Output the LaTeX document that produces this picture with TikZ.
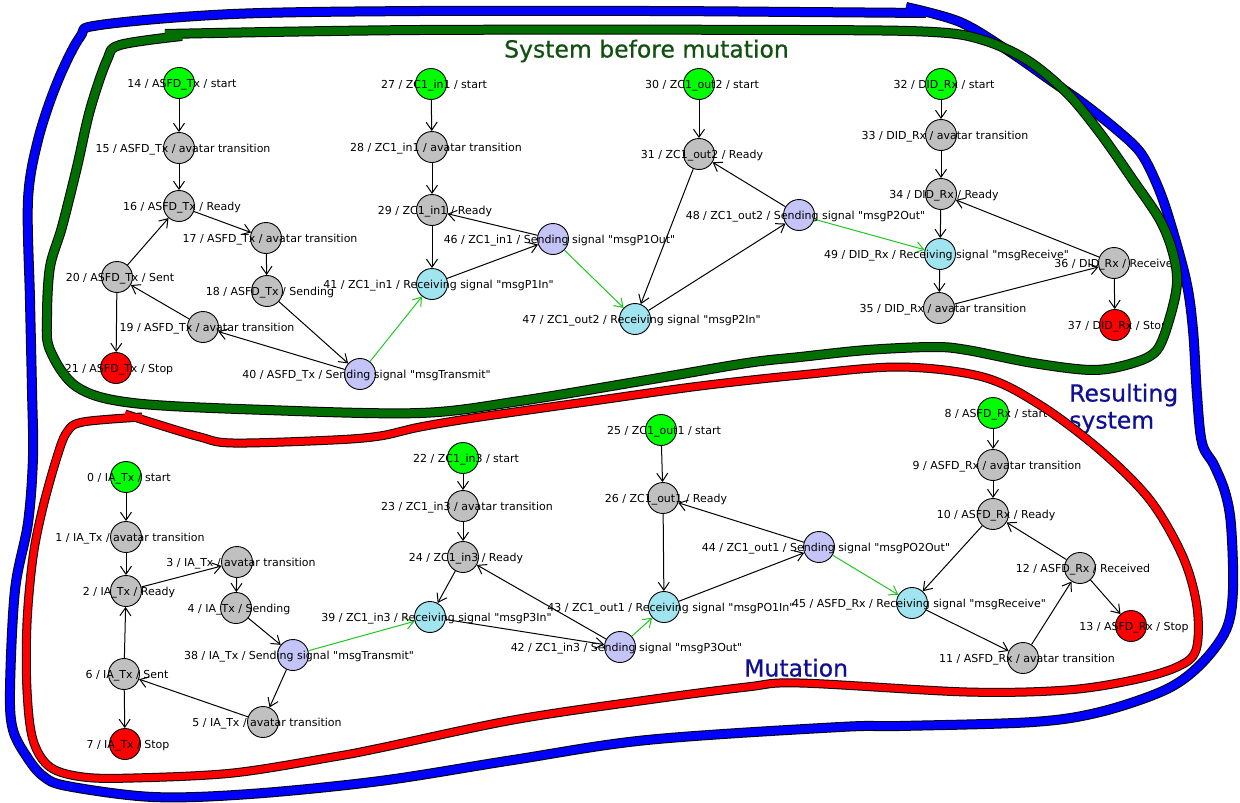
\documentclass[tikz,border=0pt]{standalone}
\usepackage{fontspec}
\newfontfamily\diagfont{DejaVu Sans}
\newfontfamily\titlefont{DejaVu Sans}[FakeBold=0.6]
\usetikzlibrary{arrows.meta}

\definecolor{cInit}{RGB}{0,255,0}
\definecolor{cMid}{RGB}{192,192,192}
\definecolor{cFin}{RGB}{255,0,0}
\definecolor{cSend}{RGB}{196,196,248}
\definecolor{cRecv}{RGB}{160,228,240}
\definecolor{cSig}{RGB}{30,200,30}
\definecolor{cBandBlue}{RGB}{0,0,255}
\definecolor{cBandGreen}{RGB}{0,110,0}
\definecolor{cBandRed}{RGB}{255,0,0}
\definecolor{cTitleGreen}{RGB}{18,80,18}
\definecolor{cTitleBlue}{RGB}{16,16,150}

% label of a state, centred on the state and drawn over it
\newcommand\statelabel[3]{\node[lbl] (l#1) at ([xshift=#2pt,yshift=-4pt]s#1.center) {#3};}

\begin{document}
\begin{tikzpicture}[x=1pt,y=-1pt,
  st/.style={circle,draw=black,line width=0.9pt,minimum size=31pt,inner sep=0pt},
  stinit/.style={st,fill=cInit},
  stmid/.style={st,fill=cMid},
  stfin/.style={st,fill=cFin},
  stsend/.style={st,fill=cSend},
  strecv/.style={st,fill=cRecv},
  lbl/.style={font=\diagfont\fontsize{11}{13}\selectfont,inner sep=0pt,anchor=base},
  trn/.style={-{Straight Barb[length=8pt,width=11pt,line width=1pt]},line width=1pt,draw=black},
  sigtrn/.style={trn,draw=cSig},
  title/.style={font=\titlefont\fontsize{23.5}{27}\selectfont,inner sep=0pt},
  band/.style={line width=1pt,draw=black,double distance=8pt,line cap=butt,line join=round}]

\fill[white] (0,0) rectangle (1240,803);
\useasboundingbox (0,0) rectangle (1240,803);

% ---------- states: system before mutation ----------
\node[stinit] (s14) at (179,83) {};
\node[stmid]  (s15) at (179,148) {};
\node[stmid]  (s16) at (179,206) {};
\node[stmid]  (s17) at (266,238) {};
\node[stmid]  (s18) at (267,291) {};
\node[stmid]  (s19) at (203,327) {};
\node[stmid]  (s20) at (117,277) {};
\node[stfin]  (s21) at (116,368) {};
\node[stsend] (s40) at (360,374) {};
\node[stinit] (s27) at (431,84) {};
\node[stmid]  (s28) at (432,147) {};
\node[stmid]  (s29) at (432,210) {};
\node[strecv] (s41) at (432,284) {};
\node[stsend] (s46) at (553,239) {};
\node[strecv] (s47) at (635,319) {};
\node[stinit] (s30) at (699,84) {};
\node[stmid]  (s31) at (699,154) {};
\node[stsend] (s48) at (799,215) {};
\node[stinit] (s32) at (941,84) {};
\node[stmid]  (s33) at (941,135) {};
\node[stmid]  (s34) at (941,194) {};
\node[strecv] (s49) at (940,254) {};
\node[stmid]  (s35) at (939,308) {};
\node[stmid]  (s36) at (1114,263) {};
\node[stfin]  (s37) at (1115,325) {};

% ---------- states: mutation ----------
\node[stinit] (s0)  at (126,477) {};
\node[stmid]  (s1)  at (126,537) {};
\node[stmid]  (s2)  at (126,591) {};
\node[stmid]  (s3)  at (237,562) {};
\node[stmid]  (s4)  at (236,608) {};
\node[stsend] (s38) at (293,655) {};
\node[stmid]  (s6)  at (124,674) {};
\node[stmid]  (s5)  at (263,722) {};
\node[stfin]  (s7)  at (125,744) {};
\node[stinit] (s22) at (463,458) {};
\node[stmid]  (s23) at (463,506) {};
\node[stmid]  (s24) at (463,557) {};
\node[strecv] (s39) at (430,617) {};
\node[stsend] (s42) at (620,647) {};
\node[stinit] (s25) at (661,430) {};
\node[stmid]  (s26) at (663,498) {};
\node[strecv] (s43) at (664,607) {};
\node[stsend] (s44) at (819,547) {};
\node[stinit] (s8)  at (993,413) {};
\node[stmid]  (s9)  at (993,465) {};
\node[stmid]  (s10) at (993,514) {};
\node[stmid]  (s12) at (1080,568) {};
\node[strecv] (s45) at (912,603) {};
\node[stmid]  (s11) at (1023,658) {};
\node[stfin]  (s13) at (1131,626) {};

% ---------- transitions ----------
\draw[trn] (s14) -- (s15);
\draw[trn] (s15) -- (s16);
\draw[trn] (s16) -- (s17);
\draw[trn] (s17) -- (s18);
\draw[trn] (s18) -- (s40);
\draw[trn] (s40) -- (s19);
\draw[trn] (s19) -- (s20);
\draw[trn] (s20) -- (s16);
\draw[trn] (s20) -- (s21);
\draw[sigtrn] (s40) -- (s41);
\draw[trn] (s27) -- (s28);
\draw[trn] (s28) -- (s29);
\draw[trn] (s29) -- (s41);
\draw[trn] (s41) -- (s46);
\draw[trn] (s46) -- (s29);
\draw[sigtrn] (s46) -- (s47);
\draw[trn] (s30) -- (s31);
\draw[trn] (s31) -- (s47);
\draw[trn] (s47) -- (s48);
\draw[trn] (s48) -- (s31);
\draw[sigtrn] (s48) -- (s49);
\draw[trn] (s32) -- (s33);
\draw[trn] (s33) -- (s34);
\draw[trn] (s34) -- (s49);
\draw[trn] (s49) -- (s35);
\draw[trn] (s35) -- (s36);
\draw[trn] (s36) -- (s34);
\draw[trn] (s36) -- (s37);

\draw[trn] (s0) -- (s1);
\draw[trn] (s1) -- (s2);
\draw[trn] (s2) -- (s3);
\draw[trn] (s3) -- (s4);
\draw[trn] (s4) -- (s38);
\draw[trn] (s38) -- (s5);
\draw[trn] (s5) -- (s6);
\draw[trn] (s6) -- (s2);
\draw[trn] (s6) -- (s7);
\draw[sigtrn] (s38) -- (s39);
\draw[trn] (s22) -- (s23);
\draw[trn] (s23) -- (s24);
\draw[trn] (s24) -- (s39);
\draw[trn] (s39) -- (s42);
\draw[trn] (s42) -- (s24);
\draw[sigtrn] (s42) -- (s43);
\draw[trn] (s25) -- (s26);
\draw[trn] (s26) -- (s43);
\draw[trn] (s43) -- (s44);
\draw[trn] (s44) -- (s26);
\draw[sigtrn] (s44) -- (s45);
\draw[trn] (s8) -- (s9);
\draw[trn] (s9) -- (s10);
\draw[trn] (s10) -- (s45);
\draw[trn] (s45) -- (s11);
\draw[trn] (s11) -- (s12);
\draw[trn] (s12) -- (s10);
\draw[trn] (s12) -- (s13);

% ---------- state labels ----------
\statelabel{14}{3}{14 / ASFD\_Tx / start}
\statelabel{15}{4}{15 / ASFD\_Tx / avatar transition}
\statelabel{16}{3}{16 / ASFD\_Tx / Ready}
\statelabel{17}{4}{17 / ASFD\_Tx / avatar transition}
\statelabel{18}{3}{18 / ASFD\_Tx / Sending}
\statelabel{19}{4}{19 / ASFD\_Tx / avatar transition}
\statelabel{20}{3}{20 / ASFD\_Tx / Sent}
\statelabel{21}{3}{21 / ASFD\_Tx / Stop}
\statelabel{40}{6.5}{40 / ASFD\_Tx / Sending signal "msgTransmit"}
\statelabel{27}{3}{27 / ZC1\_in1 / start}
\statelabel{28}{4}{28 / ZC1\_in1 / avatar transition}
\statelabel{29}{3}{29 / ZC1\_in1 / Ready}
\statelabel{41}{6.5}{41 / ZC1\_in1 / Receiving signal "msgP1In"}
\statelabel{46}{6.5}{46 / ZC1\_in1 / Sending signal "msgP1Out"}
\statelabel{47}{6.5}{47 / ZC1\_out2 / Receiving signal "msgP2In"}
\statelabel{30}{3}{30 / ZC1\_out2 / start}
\statelabel{31}{3}{31 / ZC1\_out2 / Ready}
\statelabel{48}{6.5}{48 / ZC1\_out2 / Sending signal "msgP2Out"}
\statelabel{32}{3}{32 / DID\_Rx / start}
\statelabel{33}{4}{33 / DID\_Rx / avatar transition}
\statelabel{34}{3}{34 / DID\_Rx / Ready}
\statelabel{49}{6.5}{49 / DID\_Rx / Receiving signal "msgReceive"}
\statelabel{35}{4}{35 / DID\_Rx / avatar transition}
\statelabel{36}{3}{36 / DID\_Rx / Received}
\statelabel{37}{3}{37 / DID\_Rx / Stop}

\statelabel{0}{3}{0 / IA\_Tx / start}
\statelabel{1}{4}{1 / IA\_Tx / avatar transition}
\statelabel{2}{3}{2 / IA\_Tx / Ready}
\statelabel{3}{4}{3 / IA\_Tx / avatar transition}
\statelabel{4}{3}{4 / IA\_Tx / Sending}
\statelabel{38}{6}{38 / IA\_Tx / Sending signal "msgTransmit"}
\statelabel{6}{3}{6 / IA\_Tx / Sent}
\statelabel{5}{4}{5 / IA\_Tx / avatar transition}
\statelabel{7}{3}{7 / IA\_Tx / Stop}
\statelabel{22}{3}{22 / ZC1\_in3 / start}
\statelabel{23}{4}{23 / ZC1\_in3 / avatar transition}
\statelabel{24}{3}{24 / ZC1\_in3 / Ready}
\statelabel{39}{6.5}{39 / ZC1\_in3 / Receiving signal "msgP3In"}
\statelabel{42}{6.5}{42 / ZC1\_in3 / Sending signal "msgP3Out"}
\statelabel{25}{3}{25 / ZC1\_out1 / start}
\statelabel{26}{3}{26 / ZC1\_out1 / Ready}
\statelabel{43}{7}{43 / ZC1\_out1 / Receiving signal "msgPO1In"}
\statelabel{44}{7}{44 / ZC1\_out1 / Sending signal "msgPO2Out"}
\statelabel{8}{3}{8 / ASFD\_Rx / start}
\statelabel{9}{4}{9 / ASFD\_Rx / avatar transition}
\statelabel{10}{3}{10 / ASFD\_Rx / Ready}
\statelabel{12}{3}{12 / ASFD\_Rx / Received}
\statelabel{45}{7}{45 / ASFD\_Rx / Receiving signal "msgReceive"}
\statelabel{11}{4}{11 / ASFD\_Rx / avatar transition}
\statelabel{13}{3}{13 / ASFD\_Rx / Stop}

% ---------- titles ----------
\node[title,text=cTitleGreen,anchor=base] (tbefore) at (646.5,57.5) {System before mutation};
\node[title,text=cTitleBlue,anchor=base west] (tresult1) at (1069,401.5) {Resulting};
\node[title,text=cTitleBlue,anchor=base west] (tresult2) at (1069,428.5) {system};
\node[title,text=cTitleBlue,anchor=base west] (tmutation) at (744,676.5) {Mutation};

% ---------- hand-drawn outlines ----------
\draw[band,double=cBandBlue] plot[smooth,tension=0.55] coordinates {
  (906,7) (960,22) (1007,50) (1050,80) (1083,103) (1117,130) (1140,152)
  (1155,180) (1168,215) (1186,280) (1193,330) (1197,395) (1202,443)
  (1214,465) (1225,492) (1231,525) (1233,590) (1226,630) (1200,665)
  (1165,690) (1100,712) (1033,722) (900,726) (840,727) (647,740)
  (513,760) (380,781) (250,794) (153,797) (67,786) (43,776) (27,757)
  (13,730) (10,690) (15,590) (28,523) (33,457) (32,390) (30,300)
  (28,200) (38,140) (57,83) (80,37) (100,25) (233,14) (420,11)
  (650,11) (800,12) (926,13)};

\draw[band,double=cBandGreen] plot[smooth,tension=0.55] coordinates {
  (165,34) (420,30) (800,30) (933,32) (983,40) (1027,60) (1067,93)
  (1100,133) (1133,180) (1160,220) (1173,253) (1177,283) (1170,317)
  (1157,350) (1133,363) (1093,370) (1033,363) (967,350) (933,347)
  (867,350) (800,357) (747,363) (647,380) (520,401) (420,413)
  (267,410) (133,403) (77,387) (50,350) (47,317) (50,267) (62,227)
  (77,167) (90,110) (107,60) (120,45) (182,36)};

\draw[band,double=cBandRed,double distance=7pt] plot[smooth,tension=0.55] coordinates {
  (125,414) (150,422) (200,437) (233,443) (333,440) (380,436) (420,427)
  (480,417) (600,400) (700,386) (800,375) (900,367) (983,377)
  (1040,405) (1100,450) (1150,500) (1183,557) (1197,607) (1196,650)
  (1177,667) (1133,680) (1067,690) (967,692) (800,683) (747,687)
  (647,700) (513,720) (380,748) (333,757) (233,773) (133,778)
  (83,777) (50,767) (33,740) (27,690) (27,623) (33,557) (43,507)
  (57,457) (67,432) (83,422) (142,417)};

\end{tikzpicture}
\end{document}
